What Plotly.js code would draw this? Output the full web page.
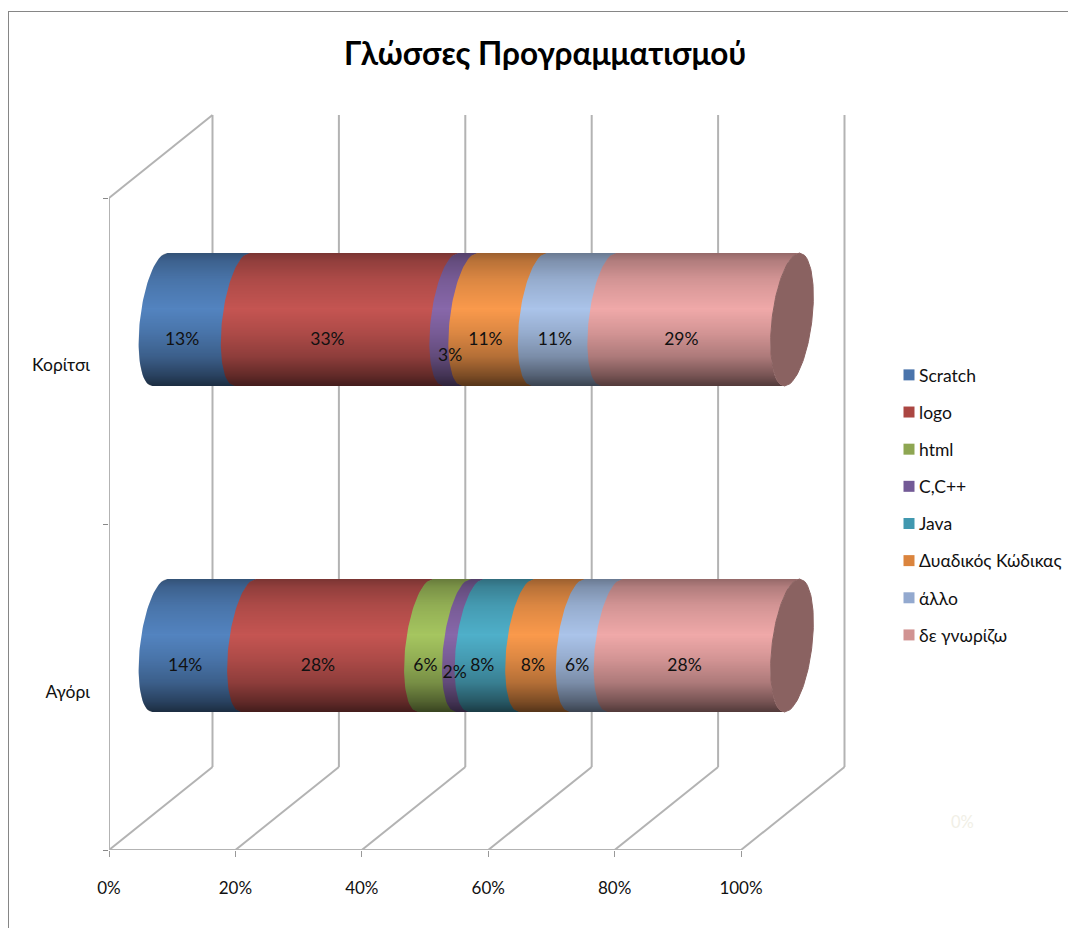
<!DOCTYPE html>
<html lang="el">
<head>
<meta charset="utf-8">
<title>Γλώσσες Προγραμματισμού</title>
<script src="https://cdn.plot.ly/plotly-3.0.1.min.js"></script>
<style>html,body{margin:0;padding:0;background:#fff}</style>
</head>
<body>
<div id="chart" style="width:1068px;height:928px"></div>
<script>
// Share of pupils per programming language, by gender
const categories = ['Αγόρι', 'Κορίτσι'];
const languages = ['Scratch', 'logo', 'html', 'C,C++', 'Java', 'Δυαδικός Κώδικας', 'άλλο', 'δε γνωρίζω'];
const boys  = [14, 28, 6, 2, 8, 8, 6, 28];
const girls = [13, 33, 0, 3, 0, 11, 11, 29];
const legendColors = ['#4a74ab', '#ab4642', '#8ea652', '#735a96', '#4198af', '#db843d', '#93a9cf', '#d19392'];
const litColors    = ['#5384c0', '#c55552', '#a6c660', '#8868aa', '#4fb0ca', '#fa9a4c', '#abc4ea', '#f0a9a9'];
const capColor = '#8a6261';
const tickPercents = [0, 20, 40, 60, 80, 100];

// Plot-area scale: pixels per percent and per category slot
const PX_X = 6.32, PX_Y = 326, LEFT = 109, BOTTOM = 850, PLOT_W = 751, PLOT_H = 750, TOP = 100;
const dx = px => px / PX_X;
const dy = px => px / PX_Y;
const yOf = py => (BOTTOM - py) / PX_Y;

// Depth of the 3D box and shape of the cylinders
const DEPTH_X = dx(103.5), DEPTH_Y = dy(83);
const SHIFT = dx(51), ELL_A = dx(20), ELL_S = dx(7.5);
const CYL_TOP = [579, 253], CYL_H = 133;   // top pixel row of each cylinder, height

function curve(p, v, side) {
  return p + SHIFT + ELL_S * v + side * ELL_A * Math.sqrt(Math.max(0, 1 - v * v));
}
function edgeSamples(n) {
  const out = [];
  for (let i = 0; i <= n; i++) out.push(1 - 2 * i / n);
  return out;
}
const VS = edgeSamples(48);

function segmentOutline(p0, p1, row, xs, ys) {
  const yc = yOf(CYL_TOP[row] + CYL_H / 2), R = dy(CYL_H / 2);
  VS.forEach(v => { xs.push(curve(p0, v, -1)); ys.push(yc + v * R); });
  VS.slice().reverse().forEach(v => { xs.push(curve(p1, v, -1)); ys.push(yc + v * R); });
  xs.push(xs[xs.length - 2 * VS.length]); ys.push(ys[ys.length - 2 * VS.length]);
  xs.push(null); ys.push(null);
}

const traces = [];
const rows = [boys, girls];

// Coloured cylinder segments, one trace per language across both rows
languages.forEach((name, i) => {
  const xs = [], ys = [];
  rows.forEach((vals, r) => {
    if (!vals[i]) return;
    const start = vals.slice(0, i).reduce((a, b) => a + b, 0);
    const end = start + vals[i];
    segmentOutline(start, end < 100 ? end + 0.15 : end, r, xs, ys);
  });
  traces.push({
    type: 'scatter', mode: 'lines', x: xs, y: ys, fill: 'toself',
    fillcolor: litColors[i], line: {width: 0}, hoverinfo: 'skip', showlegend: false
  });
});

// Shading across the cylinder height: brightness stops from top edge to bottom edge
const shadeStops = [[0, 0.62], [0.06, 0.74], [0.20, 0.88], [0.42, 1.0], [0.60, 0.88], [0.78, 0.72], [0.92, 0.50], [1, 0.34]];
function brightness(t) {
  for (let k = 1; k < shadeStops.length; k++) {
    if (t <= shadeStops[k][0]) {
      const a = shadeStops[k - 1], b = shadeStops[k];
      return a[1] + (b[1] - a[1]) * (t - a[0]) / (b[0] - a[0]);
    }
  }
  return 0.34;
}
for (let b = 0; b < CYL_H; b++) {
  const xs = [], ys = [];
  const v1 = 1 - 2 * b / CYL_H, v2 = 1 - 2 * (b + 1) / CYL_H;
  CYL_TOP.forEach(top => {
    const y1 = yOf(top + b), y2 = yOf(top + b + 1);
    xs.push(curve(0, v1, -1), curve(0, v2, -1), curve(100, v2, -1), curve(100, v1, -1), curve(0, v1, -1), null);
    ys.push(y1, y2, y2, y1, y1, null);
  });
  const alpha = 1 - brightness((b + 0.5) / CYL_H);
  traces.push({
    type: 'scatter', mode: 'lines', x: xs, y: ys, fill: 'toself',
    fillcolor: 'rgba(0,0,0,' + alpha.toFixed(3) + ')', line: {width: 0},
    hoverinfo: 'skip', showlegend: false
  });
}

// End caps at 100%
(function () {
  const xs = [], ys = [];
  const steps = edgeSamples(60);
  CYL_TOP.forEach(top => {
    const yc = yOf(top + CYL_H / 2), R = dy(CYL_H / 2);
    steps.forEach(v => { xs.push(curve(100, v, -1)); ys.push(yc + v * R); });
    steps.slice().reverse().forEach(v => { xs.push(curve(100, v, 1)); ys.push(yc + v * R); });
    xs.push(null); ys.push(null);
  });
  traces.push({
    type: 'scatter', mode: 'lines', x: xs, y: ys, fill: 'toself',
    fillcolor: capColor, line: {width: 1, color: capColor}, connectgaps: false,
    hoverinfo: 'skip', showlegend: false
  });
})();

// Percentage labels; narrow segments get their label pushed aside (px)
const labelNudge = {'1-3': [9, 16], '0-3': [4, 7]};
const FONT = 'Lato, "Open Sans", sans-serif';
(function () {
  const xs = [], ys = [], txt = [];
  rows.forEach((vals, r) => {
    let run = 0;
    vals.forEach((val, i) => {
      if (val) {
        const n = labelNudge[r + '-' + i] || [0, 0];
        xs.push(run + val / 2 + SHIFT - ELL_A + dx(n[0] + 1));
        ys.push(yOf(CYL_TOP[r] + CYL_H / 2 + 21 + n[1]));
        txt.push(val + '%');
      }
      run += val;
    });
  });
  traces.push({
    type: 'scatter', mode: 'text', x: xs, y: ys, text: txt, textposition: 'middle center',
    textfont: {family: FONT, size: 17.5, color: '#111'},
    hoverinfo: 'skip', showlegend: false
  });
})();

// Legend entries, each in its own group so the entries can be spaced out
languages.forEach((name, i) => {
  traces.push({
    type: 'scatter', mode: 'markers', name: name, x: [null], y: [null], legendgroup: 'g' + i,
    marker: {symbol: 'square', size: 11, color: legendColors[i]}, hoverinfo: 'skip'
  });
});

// Walls and floor of the 3D box
const GRID = '#b3b3b3';
function gridLine(x0, y0, x1, y1, w, color) {
  return {type: 'line', xref: 'x', yref: 'y', layer: 'below', x0, y0, x1, y1,
          line: {color: color || GRID, width: w || 2}};
}
const shapes = [];
tickPercents.forEach(p => {
  shapes.push(gridLine(p, 0, p + DEPTH_X, DEPTH_Y));
  shapes.push(gridLine(p + DEPTH_X, DEPTH_Y, p + DEPTH_X, 2 + DEPTH_Y));
});
shapes.push(gridLine(0, 0, 0, 2));
shapes.push(gridLine(0, 2, DEPTH_X, 2 + DEPTH_Y));
shapes.push(gridLine(0, 0, 100, 0));

// Chart frame, open on the right and at the bottom
const fx = px => (px - LEFT) / PLOT_W, fy = py => (BOTTOM - py) / PLOT_H;
shapes.push({type: 'line', xref: 'paper', yref: 'paper', x0: fx(8.5), x1: fx(8.5), y0: fy(11.5), y1: fy(940),
             line: {color: '#868686', width: 1}});
shapes.push({type: 'line', xref: 'paper', yref: 'paper', x0: fx(8), x1: fx(1080), y0: fy(11.5), y1: fy(11.5),
             line: {color: '#868686', width: 1}});

const layout = {
  width: 1068, height: 928,
  paper_bgcolor: '#fff', plot_bgcolor: 'rgba(0,0,0,0)',
  margin: {l: LEFT, r: 1068 - LEFT - PLOT_W, t: TOP, b: 928 - BOTTOM, pad: 0, autoexpand: false},
  font: {family: FONT, size: 17, color: '#111'},
  title: {text: '<b>Γλώσσες Προγραμματισμού</b>', x: 545 / 1068, xanchor: 'center', y: 1 - 54 / 928, yanchor: 'middle',
          font: {family: FONT, size: 31.5, color: '#000'}},
  xaxis: {
    range: [0, PLOT_W / PX_X], tickmode: 'array', tickvals: tickPercents,
    ticktext: tickPercents.map(p => p + '%'), ticks: 'outside', ticklen: 6, tickwidth: 1, tickcolor: '#999',
    tickfont: {size: 17}, showgrid: false, zeroline: false, showline: false, ticklabelstandoff: 17, fixedrange: true
  },
  yaxis: {
    range: [0, PLOT_H / PX_Y], tickmode: 'array', tickvals: [yOf(692), yOf(365)], ticktext: categories,
    tickfont: {size: 17.5}, ticks: '', showgrid: false, zeroline: false, showline: false, ticklabelstandoff: 18, fixedrange: true,
    minor: {tickmode: 'array', tickvals: [0, 1, 2], ticks: 'outside', ticklen: 5, tickwidth: 1, tickcolor: '#888', showgrid: false}
  },
  legend: {
    x: fx(879), xanchor: 'left', y: fy(357), yanchor: 'top', traceorder: 'grouped',
    tracegroupgap: 11.4, font: {family: FONT, size: 17.5, color: '#111'},
    bgcolor: 'rgba(0,0,0,0)', itemclick: false, itemdoubleclick: false
  },
  annotations: [{
    text: '0%', xref: 'paper', yref: 'paper', x: fx(962), y: fy(822), xanchor: 'center', yanchor: 'middle', showarrow: false,
    font: {family: FONT, size: 16.5, color: '#f1efe6'}
  }],
  shapes: shapes
};

// Legend swatches sit closer to their text than the default spacing
function tightenLegend() {
  document.querySelectorAll('#chart .legend .legendpoints').forEach(g => {
    g.setAttribute('transform', 'translate(10,0)');
  });
}

Plotly.newPlot('chart', traces, layout, {displayModeBar: false, responsive: false}).then(tightenLegend);
</script>
</body>
</html>
